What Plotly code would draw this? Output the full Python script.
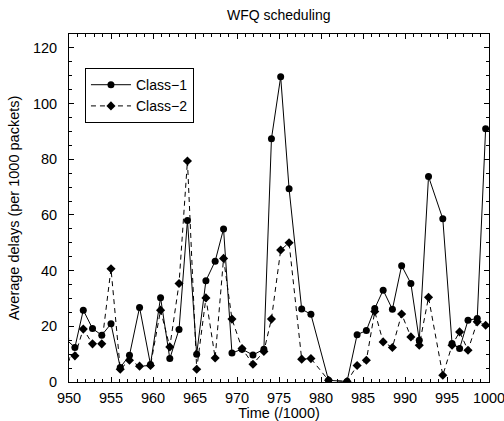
import plotly.graph_objects as go

time = [949.6, 950.7, 951.7, 952.8, 953.9, 955.0, 956.1, 957.2, 958.4, 959.7,
        960.9, 962.0, 963.1, 964.1, 965.2, 966.3, 967.4, 968.4, 969.4, 970.6,
        971.9, 973.2, 974.1, 975.2, 976.2, 977.7, 978.8, 980.9, 983.1, 984.3,
        985.4, 986.4, 987.4, 988.5, 989.6, 990.7, 991.7, 992.8, 994.5, 995.6,
        996.5, 997.5, 998.6, 999.6]
class1 = [15.5, 12.4, 25.8, 19.2, 16.8, 20.9, 5.2, 9.6, 26.8, 6.3,
          30.3, 8.4, 18.9, 58.0, 10.0, 36.4, 43.4, 55.0, 10.4, 11.8,
          9.7, 11.8, 87.4, 109.6, 69.4, 26.2, 24.3, 0.6, 0.2, 17.0,
          18.5, 26.4, 33.0, 26.1, 41.8, 35.4, 15.0, 73.8, 58.6, 13.8,
          12.0, 22.2, 22.8, 91.0]
class2 = [8.0, 9.4, 19.0, 13.7, 13.7, 40.7, 4.6, 7.8, 5.7, 5.9,
          25.8, 12.6, 35.4, 79.4, 4.6, 30.2, 8.6, 44.4, 22.6, 12.0,
          6.4, 11.0, 22.6, 47.4, 50.0, 8.2, 8.4, 0.6, 0.2, 5.9,
          7.8, 25.3, 14.4, 12.4, 24.4, 16.2, 13.2, 30.4, 2.4, 13.2,
          18.0, 11.4, 21.6, 20.4]

x_ticks = [950, 955, 960, 965, 970, 975, 980, 985, 990, 995, 1000]
y_ticks = [0, 20, 40, 60, 80, 100, 120]

FONT = "Liberation Sans, Arial, Helvetica, sans-serif"
FS = 14.5

fig = go.Figure()
fig.add_trace(go.Scatter(
    x=time, y=class1, name="Class\u22121", mode="lines+markers",
    line=dict(color="black", width=1),
    marker=dict(symbol="circle", size=7, color="black"),
    cliponaxis=True))
fig.add_trace(go.Scatter(
    x=time, y=class2, name="Class\u22122", mode="lines+markers",
    line=dict(color="black", width=1, dash="5px,4px"),
    marker=dict(symbol="diamond", size=7, color="black"),
    cliponaxis=True))

axis_common = dict(
    showline=True, linecolor="black", linewidth=1, mirror="ticks",
    ticks="inside", ticklen=5, tickcolor="black", tickwidth=1,
    showgrid=False, zeroline=False, automargin=False,
    ticklabeloverflow="allow",
    tickfont=dict(family=FONT, size=FS, color="black"),
)

fig.update_xaxes(
    range=[950, 1000], tickvals=x_ticks, ticktext=[str(v) for v in x_ticks],
    ticklabelstandoff=3,
    title=dict(text="Time (/1000)", font=dict(family=FONT, size=FS, color="black"), standoff=5),
    minor=dict(dtick=1, ticks="inside", ticklen=3, tickcolor="black", showgrid=False),
    **axis_common)
fig.update_yaxes(
    range=[0, 125], tickvals=y_ticks, ticktext=[str(v) for v in y_ticks],
    ticklabelstandoff=8,
    title=dict(text="Average delays (per 1000 packets)", font=dict(family=FONT, size=FS, color="black"), standoff=9),
    minor=dict(dtick=5, ticks="inside", ticklen=3, tickcolor="black", showgrid=False),
    **axis_common)

fig.update_layout(
    width=504, height=421,
    margin=dict(l=69, r=15, t=34, b=39),
    paper_bgcolor="white", plot_bgcolor="white",
    title=dict(text="WFQ scheduling", x=0.553, xanchor="center", y=0.963, yanchor="middle",
               font=dict(family=FONT, size=14, color="black")),
    legend=dict(x=0.038, y=0.902, xanchor="left", yanchor="top",
                bgcolor="white", bordercolor="black", borderwidth=1,
                font=dict(family=FONT, size=14, color="black"),
                tracegroupgap=0, itemwidth=40),
    showlegend=True,
)

fig.write_html("out.html")
